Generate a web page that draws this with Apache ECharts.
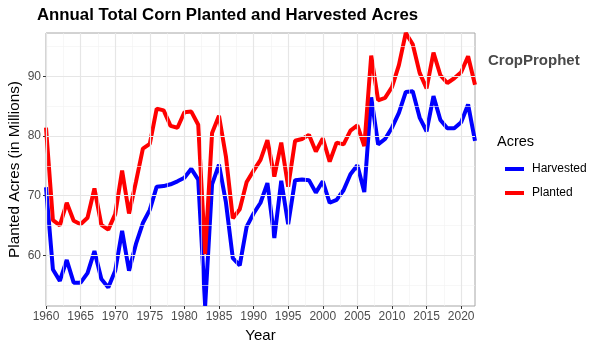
<!DOCTYPE html>
<html><head><meta charset="utf-8">
<script src="https://cdn.jsdelivr.net/npm/echarts@6/dist/echarts.min.js"></script>
<style>html,body{margin:0;padding:0;background:#fff}#c{width:600px;height:350px}</style>
</head><body><div id="c"></div>
<script>
const years = [];
for (let y = 1960; y <= 2022; y++) years.push(y);
const planted = [81.4,65.9,65.0,68.8,65.8,65.2,66.3,71.2,65.1,64.3,66.9,74.2,67.0,72.3,77.9,78.7,84.6,84.3,81.7,81.4,84.0,84.1,81.9,60.2,80.5,83.4,76.6,66.2,67.7,72.3,74.2,76.0,79.3,73.2,78.9,71.5,79.2,79.5,80.2,77.4,79.6,75.7,78.9,78.6,80.9,81.8,78.3,93.5,86.0,86.4,88.2,91.9,97.3,95.4,90.6,88.0,94.0,90.2,88.9,89.7,90.7,93.4,88.6];
const harvested = [71.4,57.6,55.7,59.2,55.4,55.4,57.0,60.7,56.0,54.6,57.4,64.1,57.4,61.9,65.4,67.6,71.5,71.6,71.9,72.4,73.0,74.5,72.7,51.5,71.9,75.2,68.9,59.5,58.3,64.8,67.0,68.8,72.1,62.9,72.5,65.2,72.6,72.7,72.6,70.5,72.4,68.8,69.3,70.9,73.6,75.1,70.6,86.5,78.6,79.5,81.4,83.9,87.4,87.5,83.1,80.8,86.7,82.7,81.3,81.3,82.3,85.3,79.2];
const xTicks = [1960,1965,1970,1975,1980,1985,1990,1995,2000,2005,2010,2015,2020];
const xMinor = [1962.5,1967.5,1972.5,1977.5,1982.5,1987.5,1992.5,1997.5,2002.5,2007.5,2012.5,2017.5];
const yTicks = [60,70,80,90];
const yMinor = [55,65,75,85,95];
const seriesNames = ['Harvested','Planted'];

const pair = (a) => years.map((y,i)=>[y,a[i]]);
const gridLines = [];
xMinor.forEach(v=>gridLines.push({xAxis:v, lineStyle:{color:'#F2F2F2',width:0.6,type:'solid'}}));
yMinor.forEach(v=>gridLines.push({yAxis:v, lineStyle:{color:'#F2F2F2',width:0.6,type:'solid'}}));
xTicks.forEach(v=>gridLines.push({xAxis:v, lineStyle:{color:'#E6E6E6',width:1.2,type:'solid'}}));
yTicks.forEach(v=>gridLines.push({yAxis:v, lineStyle:{color:'#E6E6E6',width:1.2,type:'solid'}}));

const chart = echarts.init(document.getElementById('c'), null, {renderer:'canvas'});
const font = 'Liberation Sans, Arial, sans-serif';
chart.setOption({
  animation:false,
  textStyle:{fontFamily:font},
  title:{text:'Annual Total Corn Planted and Harvested Acres', left:37, top:7, padding:0,
    textStyle:{fontSize:16.8,fontWeight:'bold',color:'#000',fontFamily:font}},
  grid:{left:46,right:125,top:33,bottom:44,containLabel:false,outerBoundsMode:'none',
    show:true,borderColor:'#A6A6A6',borderWidth:1,backgroundColor:'transparent'},
  xAxis:{type:'value',min:1960,max:2022,interval:5,
    name:'Year',nameLocation:'middle',nameGap:22,nameMoveOverlap:false,nameTextStyle:{fontSize:15,color:'#000'},
    axisLine:{show:false},
    axisTick:{show:true,length:3,lineStyle:{color:'#333'},customValues:xTicks},
    axisLabel:{color:'#4D4D4D',fontSize:12,margin:5,customValues:xTicks,formatter:v=>String(v)},
    splitLine:{show:false}},
  yAxis:{type:'value',min:51.48,max:97.29,
    name:'Planted Acres (in Millions)',nameLocation:'middle',nameGap:24,nameMoveOverlap:false,nameTextStyle:{fontSize:15.3,color:'#000'},
    axisLine:{show:false},
    axisTick:{show:true,length:3,lineStyle:{color:'#333'},customValues:yTicks},
    axisLabel:{color:'#4D4D4D',fontSize:12,margin:5,customValues:yTicks},
    splitLine:{show:false}},
  legend:{data:seriesNames,orient:'vertical',left:500,top:157,icon:'rect',itemWidth:19,itemHeight:4,itemGap:10,
    textStyle:{fontSize:12,color:'#000',padding:[0,0,0,3],lineHeight:14}},
  graphic:[
    {type:'text',left:497,top:134,style:{text:'Acres',fontSize:14.5,fill:'#000',fontFamily:font}},
    {type:'text',left:488,top:53,style:{text:'CropProphet',fontSize:15,fontWeight:'bold',fill:'#4a4a4a',fontFamily:font}}
  ],
  series:[
    {type:'line',name:'__grid',data:[],z:1,silent:true,
      markLine:{silent:true,symbol:['none','none'],label:{show:false},animation:false,data:gridLines}},
    {type:'line',name:seriesNames[0],data:pair(harvested),showSymbol:false,symbol:'none',z:3,
      lineStyle:{color:'#0000FF',width:4},itemStyle:{color:'#0000FF'}},
    {type:'line',name:seriesNames[1],data:pair(planted),showSymbol:false,symbol:'none',z:3,
      lineStyle:{color:'#FF0000',width:4},itemStyle:{color:'#FF0000'}}
  ]
});
</script></body></html>
